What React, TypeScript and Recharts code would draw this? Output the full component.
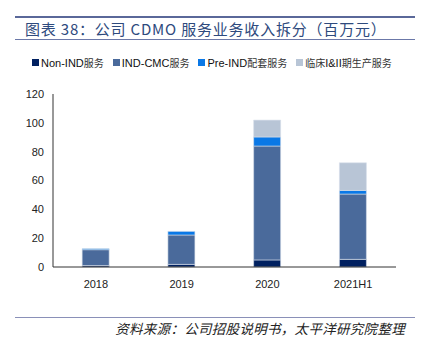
import { Bar, BarChart, XAxis, YAxis } from "recharts";

// 公司 CDMO 服务业务收入拆分（百万元）
const CATEGORIES = ["2018", "2019", "2020", "2021H1"];
const NON_IND = [1.0, 1.8, 4.9, 5.3];
const IND_CMC = [11.0, 20.4, 79.0, 45.3];
const PRE_IND = [0.7, 2.5, 6.3, 2.5];
const CLINICAL = [0, 0, 11.7, 19.2];
const Y_TICKS = [0, 20, 40, 60, 80, 100, 120];

const SERIES = [
  { key: "nonInd", name: "Non-IND服务", color: "#002060", values: NON_IND },
  { key: "indCmc", name: "IND-CMC服务", color: "#4a6a9b", values: IND_CMC },
  { key: "preInd", name: "Pre-IND配套服务", color: "#0a78e6", values: PRE_IND },
  { key: "clinical", name: "临床I&II期生产服务", color: "#b8c5d6", values: CLINICAL },
];

const data = CATEGORIES.map((cat, i) => {
  const row: Record<string, string | number> = { cat };
  SERIES.forEach((s) => (row[s.key] = s.values[i]));
  return row;
});

const FONT = "'Liberation Sans', Arial, sans-serif";
const CJK = "'Noto Sans CJK SC', sans-serif";

export default function App() {
  return (
    <div style={{ position: "absolute", left: 0, top: 0, width: 425, height: 347, background: "#fff" }}>
      <div style={{ position: "absolute", left: 15, top: 16, width: 400, height: 2, background: "#5a6899" }} />
      <div
        style={{
          position: "absolute",
          left: 25,
          top: 20,
          fontFamily: CJK,
          fontSize: 15,
          letterSpacing: 0.8,
          color: "#2e4a7d",
          whiteSpace: "nowrap",
          lineHeight: "18px",
        }}
      >
        图表 38：公司 CDMO 服务业务收入拆分（百万元）
      </div>
      <div style={{ position: "absolute", left: 15, top: 39, width: 400, height: 1, background: "#6b78a8" }} />

      <div
        style={{
          position: "absolute",
          left: 32,
          top: 55,
          display: "flex",
          gap: 9,
          fontFamily: FONT,
          fontSize: 11,
          color: "#111",
          whiteSpace: "nowrap",
          alignItems: "center",
        }}
      >
        {SERIES.map((s) => (
          <span key={s.key} style={{ display: "flex", alignItems: "center" }}>
            <span style={{ width: 7, height: 7, background: s.color, marginRight: 2, display: "inline-block" }} />
            <span>
              {s.name.split(/([\u4e00-\u9fff]+)/).map((part, j) =>
                /[\u4e00-\u9fff]/.test(part) ? (
                  <span key={j} style={{ fontFamily: CJK, fontSize: 10, color: "#333" }}>
                    {part}
                  </span>
                ) : (
                  <span key={j}>{part}</span>
                )
              )}
            </span>
          </span>
        ))}
      </div>

      <div style={{ position: "absolute", left: 0, top: 0 }}>
        <BarChart
          width={425}
          height={347}
          data={data}
          barCategoryGap="34%"
          margin={{ top: 94, right: 29, bottom: 50, left: 0 }}
        >
          <XAxis
            dataKey="cat"
            height={30}
            tickLine={false}
            tickMargin={7}
            axisLine={{ stroke: "#333" }}
            tick={{ fontFamily: FONT, fontSize: 11, fill: "#222" }}
          />
          <YAxis
            width={53}
            domain={[0, 120]}
            ticks={Y_TICKS}
            interval={0}
            tickLine={false}
            tickSize={0}
            tickMargin={9}
            axisLine={{ stroke: "#333" }}
            tick={{ fontFamily: FONT, fontSize: 11, fill: "#222" }}
          />
          {SERIES.map((s) => (
            <Bar
              key={s.key}
              dataKey={s.key}
              name={s.name}
              stackId="a"
              fill={s.color}
              stroke="#d6dfea"
              strokeWidth={0.6}
              isAnimationActive={false}
            />
          ))}
        </BarChart>
      </div>

      <div style={{ position: "absolute", left: 15, top: 317, width: 400, height: 1, background: "#8a90b8" }} />
      <div
        style={{
          position: "absolute",
          right: 20,
          top: 320,
          fontFamily: CJK,
          fontStyle: "italic",
          fontSize: 13.5,
          letterSpacing: 0.3,
          color: "#222",
          whiteSpace: "nowrap",
          lineHeight: "17px",
        }}
      >
        资料来源：公司招股说明书，太平洋研究院整理
      </div>
    </div>
  );
}
